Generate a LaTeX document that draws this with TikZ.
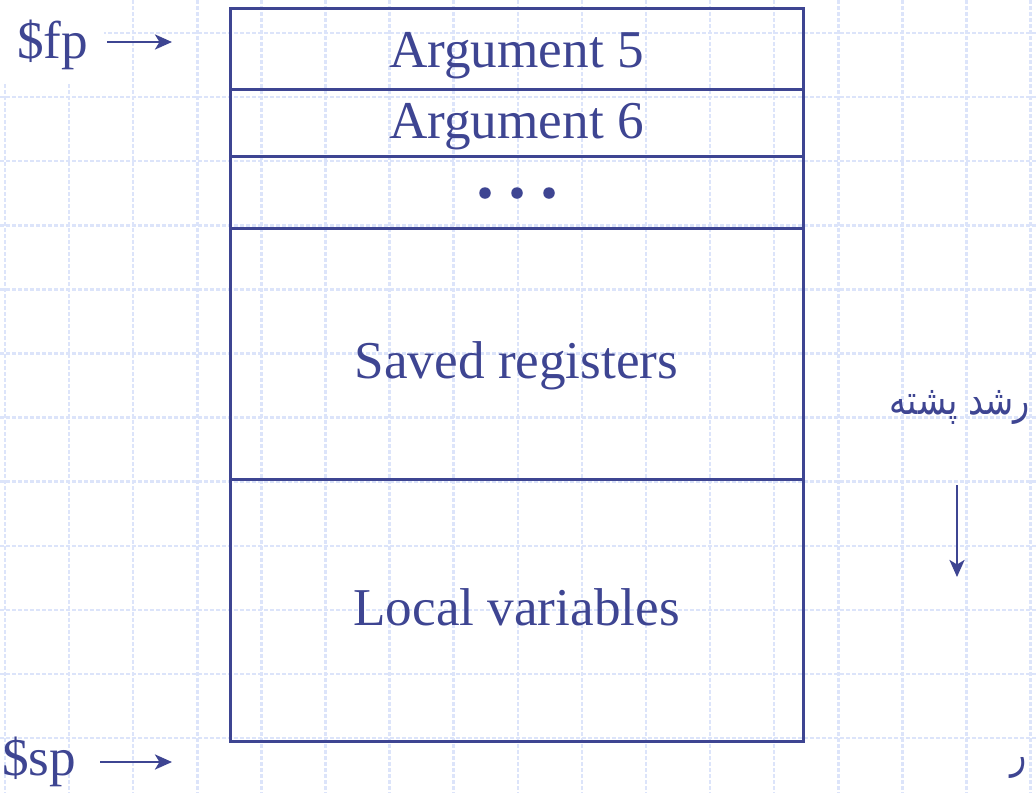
\documentclass[tikz,border=0pt]{standalone}
\usepackage{fontspec}
\setmainfont{Liberation Serif}
\newfontfamily\arabicfont[Script=Arabic]{DejaVu Sans}
\TeXXeTstate=1
\usetikzlibrary{arrows.meta}
\definecolor{sb}{RGB}{62,69,146}
\definecolor{gridc}{RGB}{220,228,250}
\begin{document}
\begin{tikzpicture}[x=1pt,y=-1pt,
  gridline/.style={draw=gridc, line width=2.5pt, dash pattern=on 4pt off 2pt},
  cell/.style={draw=sb, line width=3pt, minimum width=573pt, inner sep=0pt},
  lbl/.style={text=sb, inner sep=0pt, font=\fontsize{53.2}{60}\selectfont},
  fa/.style={text=sb, inner sep=0pt, font=\arabicfont\fontsize{41}{48}\selectfont},
  dotnode/.style={circle, fill=sb, minimum size=11.5pt, inner sep=0pt},
  arr/.style={draw=sb, line width=2.8pt, -{Stealth[length=17pt,width=15pt,inset=4.5pt]}}]
\useasboundingbox (0,0) rectangle (1036,793);
\clip (0,0) rectangle (1036,793);
\fill[white] (0,0) rectangle (1036,793);
% background grid
\foreach \k in {0,...,16}{\draw[gridline] (5+64.1*\k,0) -- (5+64.1*\k,793);}
\foreach \k in {0,...,11}{\draw[gridline] (0,33+64.1*\k) -- (1036,33+64.1*\k);}
\fill[white] (0,0) rectangle (104,83);
% stack frame cells
\node[cell, minimum height=81pt] (c1) at (516.5,48.5) {};
\node[cell, minimum height=67pt] (c2) at (516.5,122.5) {};
\node[cell, minimum height=72pt] (c3) at (516.5,192) {};
\node[cell, minimum height=251pt] (c4) at (516.5,353.5) {};
\node[cell, minimum height=262pt] (c5) at (516.5,610) {};
% texts
\node[lbl, anchor=base] (t1) at (516.5,67) {Argument 5};
\node[lbl, anchor=base] (t2) at (516.5,138) {Argument 6};
\node[dotnode] (d1) at (485,193) {};
\node[dotnode] (d2) at (517,193) {};
\node[dotnode] (d3) at (549,193) {};
\node[lbl, anchor=base] (t4) at (516.5,378) {Saved registers};
\node[lbl, anchor=base] (t5) at (516.5,625) {Local variables};
% pointers
\node[lbl, anchor=base west] (fp) at (17,58) {\$fp};
\node[lbl, anchor=base west] (sp) at (2,775) {\$sp};
\coordinate (fpa) at (107,42);
\coordinate (fpb) at (172,42);
\coordinate (spa) at (100,762);
\coordinate (spb) at (172,762);
\draw[arr] (fpa) -- (fpb);
\draw[arr] (spa) -- (spb);
% growth direction
\node[fa, anchor=base] (grow) at (960,414) {\scalebox{0.82}[1]{\beginR رشد پشته\endR}};
\coordinate (ga) at (957,485);
\coordinate (gb) at (957,577);
\draw[arr] (ga) -- (gb);
\node[fa, anchor=base west] (cut) at (1010,768) {\scalebox{0.82}[1]{\beginR ر\endR}};
\end{tikzpicture}
\end{document}
